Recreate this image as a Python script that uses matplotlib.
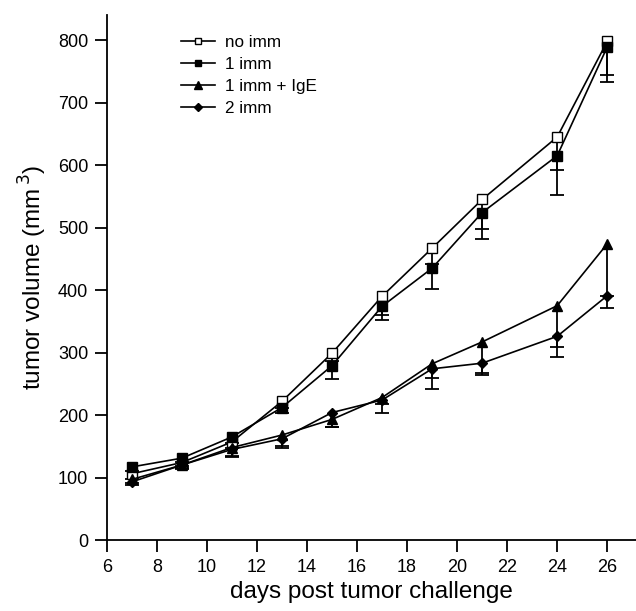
import matplotlib
matplotlib.use("Agg")
import matplotlib.pyplot as plt
import numpy as np

plt.rcParams['font.family'] = ['Liberation Sans', 'DejaVu Sans']

# donnees
days = [7, 9, 11, 13, 15, 17, 19, 21, 24, 26]
no_imm = [106, 124, 157, 222, 299, 390, 467, 545, 645, 798]
no_imm_err = [8, 6, 10, 10, 12, 30, 25, 47, 53, 54]
imm1 = [117, 131, 165, 212, 279, 374, 435, 524, 615, 789]
imm1_err = [6, 6, 10, 8, 21, 22, 33, 42, 63, 56]
ige = [97, 120, 148, 168, 193, 228, 282, 317, 375, 474]
ige_err = [6, 6, 15, 20, 12, 10, 22, 50, 66, 84]
imm2 = [93, 120, 145, 162, 204, 224, 274, 283, 326, 391]
imm2_err = [5, 5, 10, 12, 23, 21, 32, 19, 33, 20]

series = [
    ("no imm", no_imm, no_imm_err, dict(marker='s', mfc='white', ms=6.5)),
    ("1 imm", imm1, imm1_err, dict(marker='s', mfc='black', ms=6.5)),
    ("1 imm + IgE", ige, ige_err, dict(marker='^', mfc='black', ms=7)),
    ("2 imm", imm2, imm2_err, dict(marker='D', mfc='black', ms=5)),
]

fig = plt.figure(figsize=(6.36, 6.11), dpi=100)
ax = fig.add_axes([0.168, 0.1162, 0.832, 0.859])

x = np.array(days)
for name, y, err, st in series:
    y = np.array(y)
    lo = y - np.array(err)
    # barres d'erreur vers le bas seulement
    ax.vlines(x, lo, y, color='black', lw=1.3, zorder=2)
    ax.plot(x, lo, ls='none', marker='_', ms=10, mew=1.3, color='black', zorder=2)
    ax.plot(x, y, color='black', lw=1.2, mec='black', mew=1, label=name, zorder=3, **st)

ax.set_xlim(6, 27.15)
ax.set_ylim(0, 840)
ax.set_xticks(np.arange(6, 27, 2))
ax.set_yticks(np.arange(0, 801, 100))
ax.spines['top'].set_visible(False)
ax.spines['right'].set_visible(False)
ax.spines['left'].set_linewidth(1.3)
ax.spines['bottom'].set_linewidth(1.3)
ax.tick_params(direction='out', length=8.5, width=1.3, labelsize=13, pad=5)

ax.set_xlabel("days post tumor challenge", fontsize=17.5, labelpad=4)
ax.set_ylabel("tumor volume (mm$^{\\,3}$)", fontsize=17.5, labelpad=6)

ax.legend(loc='upper left', bbox_to_anchor=(0.14, 0.962), frameon=False,
          numpoints=1, handlelength=2.0, handletextpad=0.6, labelspacing=0.4,
          fontsize=12.3, borderaxespad=0, borderpad=0, markerscale=0.75)

plt.savefig("out.png", dpi=100)
